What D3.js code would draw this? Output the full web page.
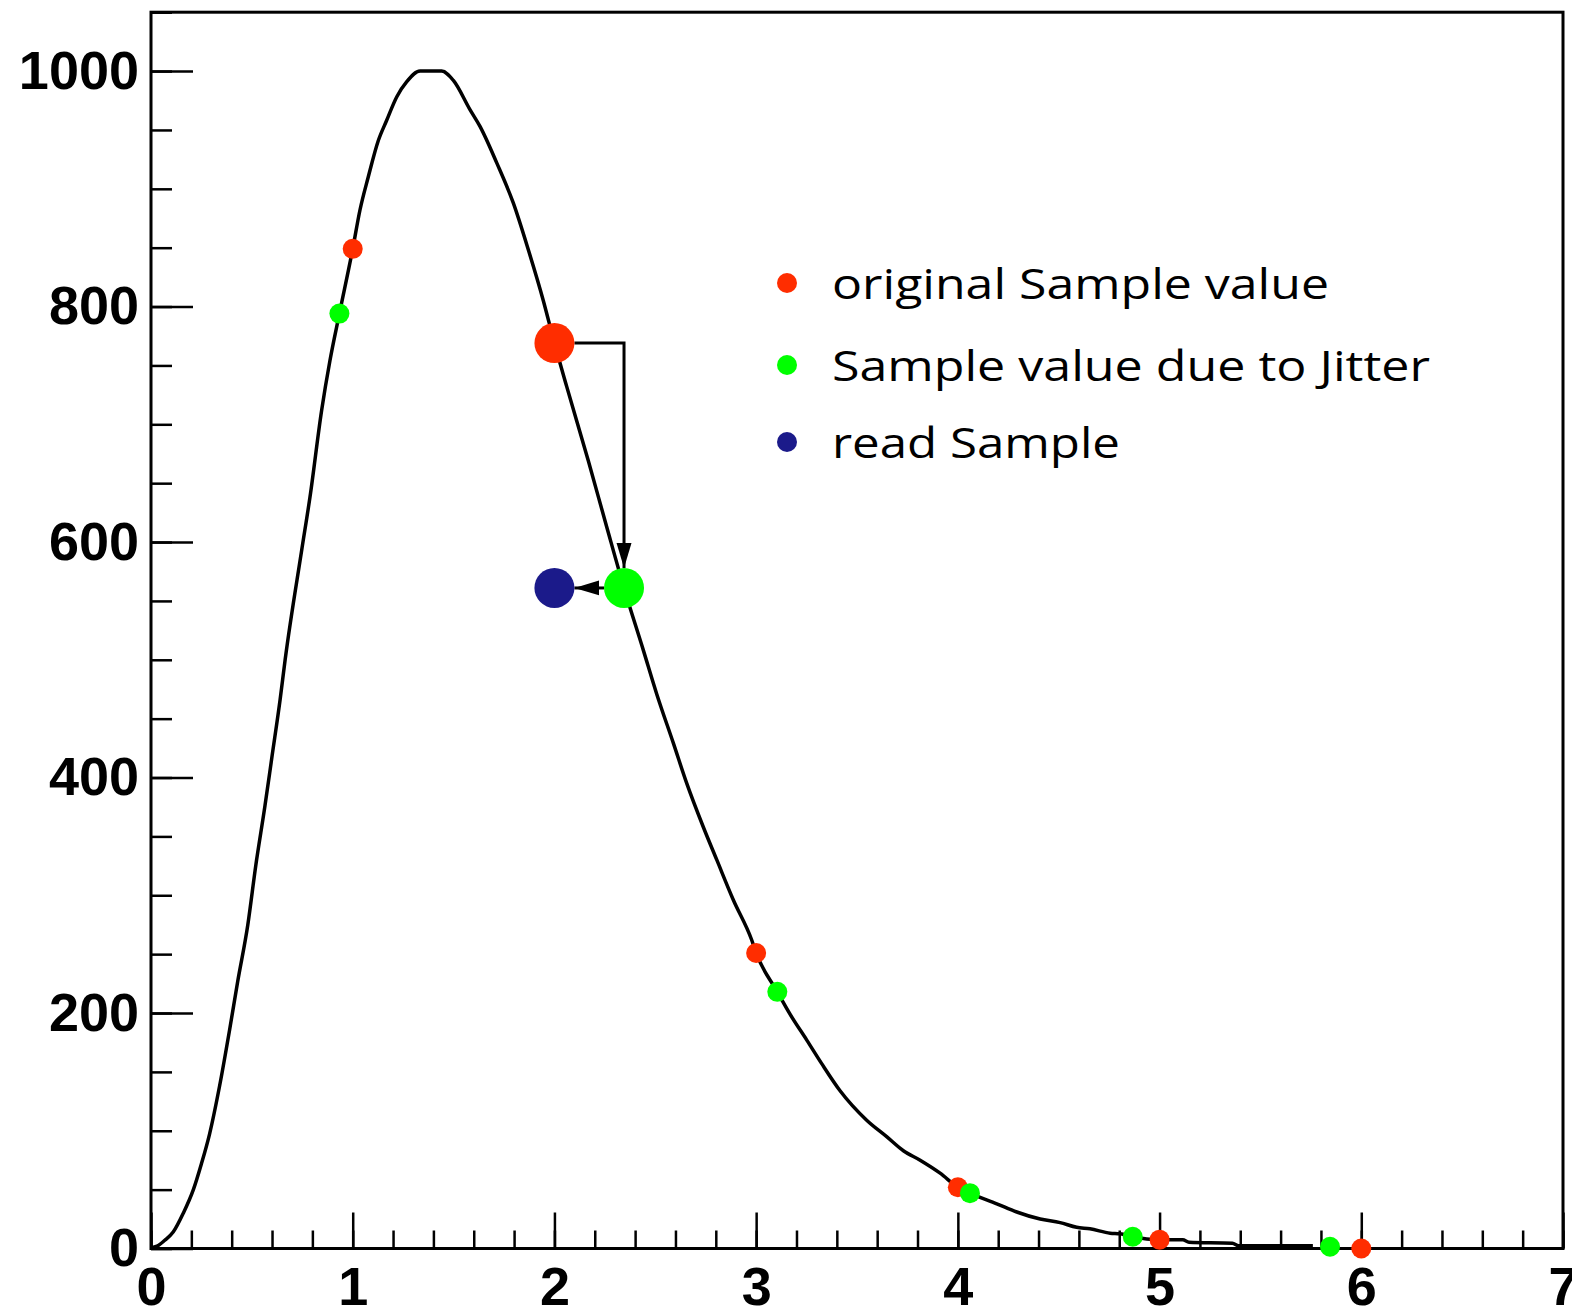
<!DOCTYPE html>
<html>
<head>
<meta charset="utf-8">
<script src="https://cdn.jsdelivr.net/npm/d3@7"></script>
<style>
  body { margin: 0; background: #fff; }
</style>
</head>
<body>
<div id="chart"></div>
<script>
// curve (x, counts)
const curveX = [0.0, 0.03, 0.067, 0.11, 0.16, 0.21, 0.25, 0.29, 0.34, 0.39, 0.43, 0.48, 0.52, 0.565, 0.60, 0.64, 0.665, 0.747, 0.788, 0.846, 0.887, 0.934, 1.0, 1.036, 1.077, 1.127, 1.168, 1.218, 1.268, 1.334, 1.441, 1.499, 1.582, 1.631, 1.714, 1.796, 1.871, 1.945, 2.0, 2.061, 2.168, 2.259, 2.345, 2.441, 2.507, 2.59, 2.656, 2.738, 2.805, 2.887, 2.978, 3.0, 3.105, 3.168, 3.251, 3.325, 3.416, 3.548, 3.647, 3.73, 3.813, 3.912, 4.0, 4.06, 4.193, 4.292, 4.408, 4.507, 4.589, 4.655, 4.755, 4.804, 4.867, 5.0, 5.115, 5.146, 5.361, 5.392, 5.76];
const curveY = [0.5, 2, 6.8, 14, 30, 50, 72, 97, 138, 186, 227, 275, 326, 376, 418, 466, 500, 593, 638, 712, 754, 794, 849, 882, 910, 941, 958, 978, 991, 1000, 1000, 992, 967, 953, 922, 888, 848, 805, 769, 732, 669, 613, 561, 508, 471, 429, 395, 358, 330, 296, 262, 251, 218, 199, 177, 157, 134, 109, 95, 83, 75, 64, 52, 47, 38, 31, 25, 22, 18, 16.7, 13, 12.5, 10, 7.5, 7.4, 5.4, 4.5, 2.3, 2.3];

const originalX = [1, 2, 3, 4, 5, 6];
const originalY = [849, 769, 251, 52, 7.5, 0];
const jitterX = [0.934, 2.345, 3.105, 4.06, 4.867, 5.845];
const jitterY = [794, 561, 218, 47, 10, 1.5];
const readX = [2];
const readY = [561];
const picked = 1; // which sample gets the arrows

const xTicks = [0, 1, 2, 3, 4, 5, 6, 7];
const yTicks = [0, 200, 400, 600, 800, 1000];
const legendLabels = ["original Sample value", "Sample value due to Jitter", "read Sample"];

const red = "#ff2d00", green = "#00ff00", navy = "#1b1a8a";
const legendColors = [red, green, navy];

const width = 1572, height = 1309;
const margin = { top: 12.2, right: 9, bottom: 60.5, left: 151 };

const svg = d3.select("#chart")
  .append("svg")
  .attr("width", width)
  .attr("height", height);

const x = d3.scaleLinear()
  .domain([0, 7])
  .range([margin.left, width - margin.right]);

const y = d3.scaleLinear()
  .domain([0, 1050])
  .range([height - margin.bottom, margin.top]);

const labelFont = "'Liberation Sans', Arial, Helvetica, sans-serif";

// the curve
const line = d3.line()
  .x(d => x(d[0]))
  .y(d => y(d[1]))
  .curve(d3.curveMonotoneX);

svg.append("path")
  .datum(d3.zip(curveX, curveY))
  .attr("fill", "none")
  .attr("stroke", "#000")
  .attr("stroke-width", 3.5)
  .attr("stroke-linejoin", "round")
  .attr("d", line);

// minor ticks first, majors on top
svg.append("g")
  .attr("transform", `translate(${x(0)},0)`)
  .call(d3.axisLeft(y).tickValues(d3.range(0, 1051, 50)).tickSize(-21).tickFormat(""))
  .call(g => g.select(".domain").remove())
  .call(g => g.selectAll("line").attr("stroke-width", 2.5));

svg.append("g")
  .attr("transform", `translate(${x(0)},0)`)
  .call(d3.axisLeft(y).tickValues(yTicks).tickSize(-42).tickPadding(12).tickFormat(d3.format("d")))
  .call(g => g.select(".domain").remove())
  .call(g => g.selectAll("line").attr("stroke-width", 2.5))
  .call(g => g.selectAll("text")
    .attr("font-family", labelFont)
    .attr("font-weight", "bold")
    .attr("font-size", 54)
    .attr("fill", "#000"));

svg.append("g")
  .attr("transform", `translate(0,${y(0)})`)
  .call(d3.axisBottom(x).tickValues(d3.range(0, 7.01, 0.2)).tickSize(-18).tickFormat(""))
  .call(g => g.select(".domain").remove())
  .call(g => g.selectAll("line").attr("stroke-width", 2.5));

svg.append("g")
  .attr("transform", `translate(0,${y(0)})`)
  .call(d3.axisBottom(x).tickValues(xTicks).tickSize(-36).tickPadding(18).tickFormat(d3.format("d")))
  .call(g => g.select(".domain").remove())
  .call(g => g.selectAll("line").attr("stroke-width", 2.5))
  .call(g => g.selectAll("text")
    .attr("font-family", labelFont)
    .attr("font-weight", "bold")
    .attr("font-size", 54)
    .attr("fill", "#000"));

// frame
svg.append("rect")
  .attr("x", x(0))
  .attr("y", y(1050))
  .attr("width", x(7) - x(0))
  .attr("height", y(0) - y(1050))
  .attr("fill", "none")
  .attr("stroke", "#000")
  .attr("stroke-width", 3);

// arrows for the picked sample
const rSmall = 10, rBig = 20;

svg.append("defs").append("marker")
  .attr("id", "head")
  .attr("markerUnits", "userSpaceOnUse")
  .attr("markerWidth", 26)
  .attr("markerHeight", 16)
  .attr("viewBox", "0 0 26 16")
  .attr("refX", 25)
  .attr("refY", 8)
  .attr("orient", "auto")
  .append("path")
  .attr("d", "M0,0.5L25,8L0,15.5Z")
  .attr("fill", "#000");

const ox = x(originalX[picked]), oy = y(originalY[picked]);
const jx = x(jitterX[picked]), jy = y(jitterY[picked]);
const rx = x(readX[0]), ry = y(readY[0]);

svg.append("path")
  .attr("d", `M${ox + rBig},${oy}H${jx}V${jy - rBig}`)
  .attr("fill", "none")
  .attr("stroke", "#000")
  .attr("stroke-width", 3)
  .attr("marker-end", "url(#head)");

svg.append("path")
  .attr("d", `M${jx - rBig},${jy}H${rx + rBig}`)
  .attr("fill", "none")
  .attr("stroke", "#000")
  .attr("stroke-width", 3)
  .attr("marker-end", "url(#head)");

// samples
svg.append("g").selectAll("circle")
  .data(d3.zip(originalX, originalY))
  .join("circle")
  .attr("cx", d => x(d[0]))
  .attr("cy", d => y(d[1]))
  .attr("r", (d, i) => i === picked ? rBig : rSmall)
  .attr("fill", red);

svg.append("g").selectAll("circle")
  .data(d3.zip(jitterX, jitterY))
  .join("circle")
  .attr("cx", d => x(d[0]))
  .attr("cy", d => y(d[1]))
  .attr("r", (d, i) => i === picked ? rBig : rSmall)
  .attr("fill", green);

svg.append("g").selectAll("circle")
  .data(d3.zip(readX, readY))
  .join("circle")
  .attr("cx", d => x(d[0]))
  .attr("cy", d => y(d[1]))
  .attr("r", rBig)
  .attr("fill", navy);

// legend
const legendRows = [283, 365, 442];
const legendWidths = [497, 598, 288];

const legend = svg.append("g");
legendLabels.forEach((label, i) => {
  legend.append("circle")
    .attr("cx", 787)
    .attr("cy", legendRows[i])
    .attr("r", rSmall)
    .attr("fill", legendColors[i]);
  legend.append("text")
    .attr("x", 832)
    .attr("y", legendRows[i] + 16)
    .attr("font-family", "'Open Sans', 'Noto Sans', sans-serif")
    .attr("font-size", 42)
    .attr("textLength", legendWidths[i])
    .attr("lengthAdjust", "spacingAndGlyphs")
    .attr("fill", "#000")
    .text(label);
});
</script>
</body>
</html>
